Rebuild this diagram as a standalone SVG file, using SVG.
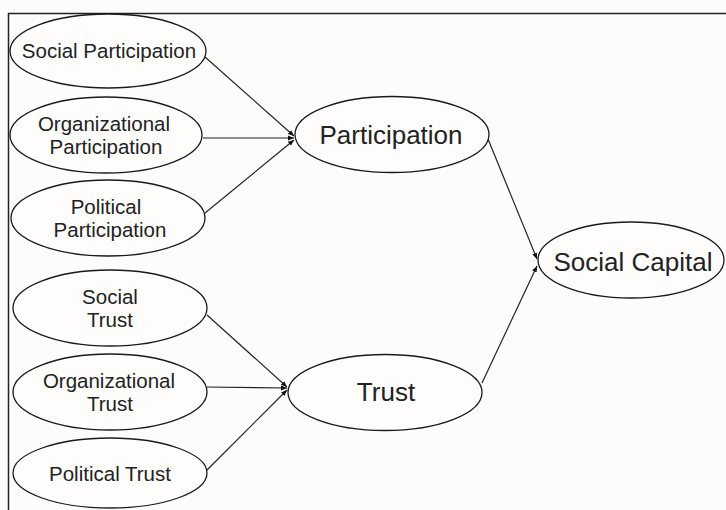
<svg xmlns="http://www.w3.org/2000/svg" width="726" height="510" viewBox="0 0 726 510">
<style>
.node ellipse{fill:#fefdfc;stroke:#1a1a1a;stroke-width:1.3}
.s{font-family:"Liberation Sans",Arial,sans-serif;font-size:20.5px;fill:#222;text-anchor:middle}
.l{font-family:"Liberation Sans",Arial,sans-serif;font-size:26px;fill:#222;text-anchor:middle}
.edges line{stroke:#222;stroke-width:1.2;marker-end:url(#ah)}
</style>
<defs>
<marker id="ah" markerUnits="userSpaceOnUse" markerWidth="8" markerHeight="8" refX="6" refY="4" orient="auto">
<path d="M0,1.5 L6,4 L0,6.5 Z" fill="#111"/>
</marker>
</defs>
<rect x="0" y="0" width="726" height="510" fill="#fdfcfb"/>
<path d="M8.5,512 V13.5 H727" fill="none" stroke="#222" stroke-width="1.5"/>
<g class="edges">
<line x1="205" y1="57" x2="294" y2="136"/>
<line x1="203" y1="138" x2="294" y2="138"/>
<line x1="205" y1="213" x2="294" y2="140"/>
<line x1="207" y1="315" x2="287" y2="387"/>
<line x1="207" y1="387" x2="287" y2="388"/>
<line x1="207" y1="470" x2="287" y2="390"/>
<line x1="488" y1="139" x2="537" y2="259"/>
<line x1="482" y1="383" x2="537" y2="266"/>
</g>
<g id="social-participation" class="node"><ellipse cx="108" cy="51" rx="98" ry="37"/><text class="s" x="109" y="58">Social Participation</text></g>
<g id="organizational-participation" class="node"><ellipse cx="106" cy="135" rx="96" ry="38"/><text class="s" x="104" y="130.5">Organizational</text><text class="s" x="106" y="153.5">Participation</text></g>
<g id="political-participation" class="node"><ellipse cx="108" cy="218" rx="97" ry="38"/><text class="s" x="106" y="213.5">Political</text><text class="s" x="110" y="236.5">Participation</text></g>
<g id="social-trust" class="node"><ellipse cx="110" cy="308" rx="97" ry="38"/><text class="s" x="110" y="303.5">Social</text><text class="s" x="110" y="326.5">Trust</text></g>
<g id="organizational-trust" class="node"><ellipse cx="110" cy="392" rx="97" ry="38"/><text class="s" x="109" y="387.5">Organizational</text><text class="s" x="110" y="410.5">Trust</text></g>
<g id="political-trust" class="node"><ellipse cx="110" cy="473" rx="97" ry="35"/><text class="s" x="110" y="481">Political Trust</text></g>
<g id="participation" class="node"><ellipse cx="392" cy="134.5" rx="97" ry="38"/><text class="l" x="391" y="144">Participation</text></g>
<g id="trust" class="node"><ellipse cx="385" cy="392.5" rx="97" ry="38"/><text class="l" x="386" y="401">Trust</text></g>
<g id="social-capital" class="node"><ellipse cx="631" cy="260" rx="93" ry="38"/><text class="l" x="633" y="271">Social Capital</text></g>
</svg>
